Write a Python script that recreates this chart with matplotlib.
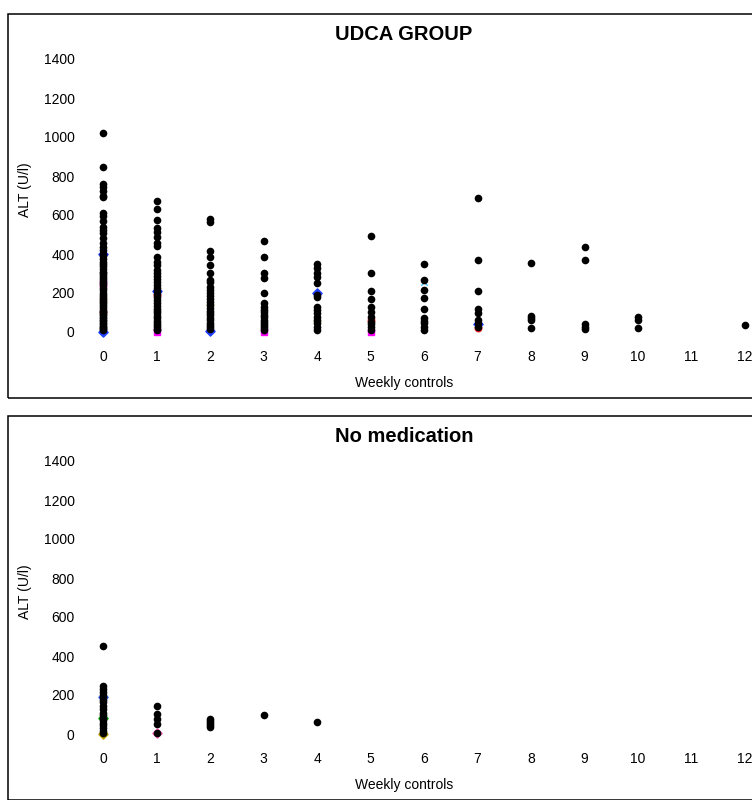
import matplotlib
matplotlib.use("Agg")
import matplotlib.pyplot as plt
from matplotlib.patches import Rectangle

plt.rcParams['font.family'] = ['Liberation Sans', 'DejaVu Sans']

# --- Data (ALT in U/l per weekly control) ---
weeks = list(range(13))
week_labels = [str(w) for w in weeks]
y_ticks = [0, 200, 400, 600, 800, 1000, 1200, 1400]

udca_alt = {
    0: [1022, 845, 760, 745, 725, 695, 690, 612, 595, 569, 540, 523, 506, 480, 455, 434,
        420, 400, 390, 375, 360, 350, 340, 325, 310, 300, 290, 280, 270, 260, 250, 240,
        228, 215, 200, 190, 180, 170, 160, 150, 140, 130, 120, 110, 100, 92, 85, 78, 70,
        62, 55, 48, 40, 33, 26, 20, 14, 8],
    1: [672, 631, 574, 532, 514, 489, 455, 441, 386, 360, 344, 318, 300, 285, 270, 255,
        240, 225, 210, 195, 180, 165, 150, 135, 120, 108, 95, 82, 70, 58, 46, 35, 25, 15, 8],
    2: [579, 562, 417, 386, 344, 301, 267, 255, 232, 215, 200, 185, 170, 155, 140, 125,
        110, 98, 85, 72, 60, 48, 36, 25, 15],
    3: [467, 383, 301, 279, 198, 150, 130, 113, 100, 88, 75, 62, 50, 40, 30, 20, 10],
    4: [349, 330, 301, 280, 250, 190, 178, 130, 115, 95, 79, 60, 44, 25, 10],
    5: [492, 304, 210, 169, 127, 100, 79, 53, 40, 27, 10],
    6: [349, 267, 215, 173, 118, 70, 55, 44, 25, 10],
    7: [689, 368, 209, 118, 96, 62, 45, 27],
    8: [355, 80, 70, 62, 20],
    9: [438, 368, 41, 27, 15],
    10: [79, 62, 19],
    12: [36],
}

nomed_alt = {
    0: [453, 248, 230, 213, 200, 188, 175, 162, 145, 128, 110, 95, 84, 70, 58, 45, 30, 15, 5],
    1: [145, 102, 76, 50, 5],
    2: [76, 65, 58, 48, 36],
    3: [98],
    4: [62],
}

# individual patient series peeking out behind the black dots
udca_blue_wk = [0, 0, 1, 2, 4, 7]
udca_blue_val = [0, 400, 210, 5, 200, 40]
udca_magenta_wk = [0, 1, 3, 5]
udca_magenta_val = [245, 0, 0, 0]
udca_olive_wk = [0, 0, 2, 4]
udca_olive_val = [170, 185, 160, 70]
udca_red_wk = [0, 1, 5, 7]
udca_red_val = [100, 190, 60, 20]
udca_cyan_wk = [0, 1, 2, 6, 6]
udca_cyan_val = [330, 20, 240, 255, 60]

nomed_color_wk = [0, 0, 0, 1]
nomed_color_val = [80, 190, 0, 5]
nomed_colors = ['#00AA00', '#3060FF', '#C0A000', '#FF60C0']

W, H = 752, 800


def fx(px):
    return px / W


def fy(py):
    return 1 - py / H


fig = plt.figure(figsize=(W / 100, H / 100), dpi=100, facecolor='white')


def make_panel(offset, title, data, extra):
    # panel frame
    fig.patches.append(Rectangle((fx(8), fy(offset + 398)), fx(760) - fx(8),
                                 fy(offset + 14) - fy(offset + 398),
                                 transform=fig.transFigure, fill=False,
                                 edgecolor='black', linewidth=1.1))
    ax = fig.add_axes([fx(81.6), fy(offset + 343.7), fx(674.1),
                       fy(offset + 49.25) - fy(offset + 343.7)])
    for side in ax.spines.values():
        side.set_visible(False)

    for wk, col, mk in extra:
        ax.scatter(wk[0], wk[1], s=22, color=col, marker=mk, linewidths=1, zorder=2)

    for wk, vals in data.items():
        ax.plot([wk] * len(vals), vals, 'o', color='black', markersize=5.5,
                markeredgewidth=0, zorder=3)

    ax.set_xlim(-0.4, 12.2)
    ax.set_ylim(-60, 1450)
    ax.set_xticks(weeks)
    ax.set_xticklabels(week_labels)
    ax.set_yticks(y_ticks)
    ax.tick_params(length=0, labelsize=10, pad=4.5)
    ax.tick_params(axis='y', pad=5)

    fig.text(fx(404), fy(offset + 34), title, ha='center', va='center',
             fontsize=14.5, fontweight='bold')
    fig.text(fx(404), fy(offset + 383), 'Weekly controls', ha='center', va='center',
             fontsize=10)
    fig.text(fx(25), fy(offset + 190), 'ALT (U/l)', ha='center', va='center',
             fontsize=10, rotation=90)
    return ax


udca_extra = [
    ((udca_blue_wk, udca_blue_val), '#2040FF', 'D'),
    ((udca_magenta_wk, udca_magenta_val), '#FF00FF', 's'),
    ((udca_olive_wk, udca_olive_val), '#C09000', '^'),
    ((udca_red_wk, udca_red_val), '#FF2020', 'o'),
    ((udca_cyan_wk, udca_cyan_val), '#40C0FF', 'x'),
]
nomed_extra = [(([w], [v]), c, 'D') for w, v, c in zip(nomed_color_wk, nomed_color_val, nomed_colors)]

make_panel(0, 'UDCA GROUP', udca_alt, udca_extra)
make_panel(402, 'No medication', nomed_alt, nomed_extra)

fig.savefig('out.png', dpi=100, facecolor='white')
